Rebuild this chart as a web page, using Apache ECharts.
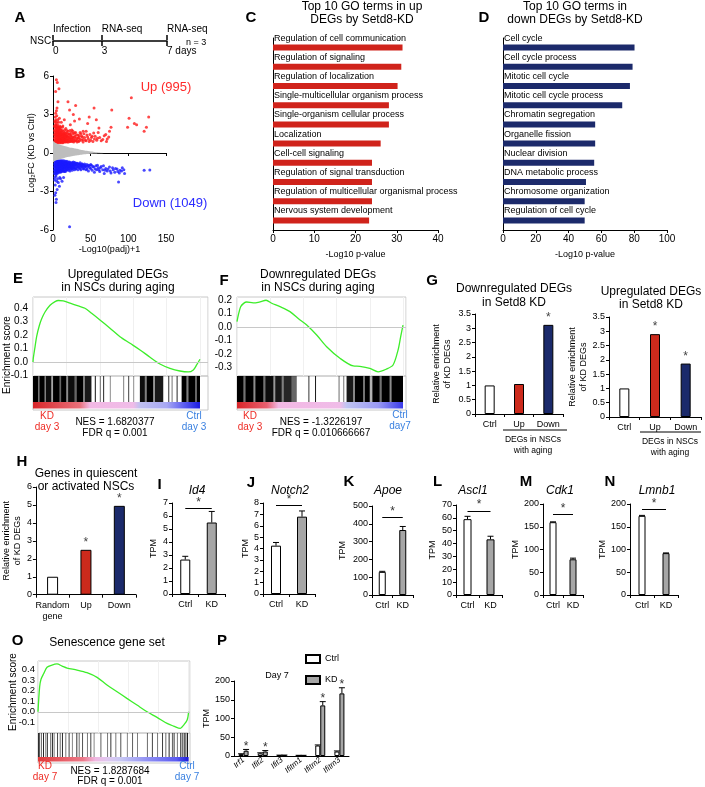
<!DOCTYPE html>
<html><head><meta charset="utf-8">
<script src="https://cdn.jsdelivr.net/npm/echarts@6.0.0/dist/echarts.min.js"></script>
<style>html,body{margin:0;padding:0;background:#fff;}#chart{width:705px;height:787px;}</style>
</head><body><div id="chart"></div>
<script>
// ================= DATA =================
const timelineDays = [0, 3, 7];
const timelineTop = ['Infection', 'RNA-seq', 'RNA-seq'];
const timelineBottom = ['0', '3', '7 days'];

const volcanoUp = [
[4.5,5.7],[5.7,5.5],[7.9,5.0],[3.5,4.8],[6.6,4.0],[19.9,4.0],[30,3.7],[5.3,3.5],[54.5,3.5],[78,3.35],[104,4.3],[127,2.8],[101,2.7],[108,2.3],[111,2.2],[99,2.0],[124,2.0],[121,1.7],[77,2.0],[75,1.7],[70,1.45],[61,1.95],[57.5,2.6],[46,2.3],[40,1.7],[48,2.8],[35,2.65],[28.6,2.5],[27,3.0],[22,3.35],
[3,0.8],[3,1.0],[3,1.3],[3,1.6],[3,2.0],[3,2.4],[3,2.8],[3.5,3.1],[4,0.9],[4,1.2],[4,1.5],[4,1.9],[4,2.2],[4,2.6],[4.5,3.3],[5,0.75],[5,1.05],[5,1.35],[5,1.7],[5,2.05],[5,2.4],[5,2.9],[6,0.85],[6,1.1],[6,1.45],[6,1.8],[6,2.2],[6.5,2.6],[7,0.8],[7,1.0],[7,1.3],[7,1.6],[7,2.0],[7.5,2.4],[8,0.9],[8,1.2],[8,1.5],[8,1.85],[8.5,2.7],[9,0.8],[9,1.05],[9,1.4],[9,2.1],[10,0.9],[10,1.2],[10,1.6],[10,2.0],[11,0.8],[11,1.1],[11,1.45],[11,2.4],[12,0.95],[12,1.3],[12,1.75],[13,0.8],[13,1.15],[13,1.5],[13,2.1],[14,1.0],[14,1.35],[15,0.85],[15,1.2],[15,1.6],[15,2.6],[16,1.0],[16,1.4],[17,0.9],[17,1.25],[17,1.9],[18,1.1],[18,1.55],[19,0.85],[19,1.3],[20,1.0],[20,1.7],[21,1.2],[22,0.9],[22,1.5],[23,1.1],[23,2.2],[24,0.95],[24,1.35],[25,1.2],[25,1.8],[26,0.9],[27,1.1],[27,1.5],[28,1.0],[29,1.3],[30,0.95],[30,1.6],[31,1.15],[32,1.0],[33,1.4],[34,1.2],[35,0.95],[36,1.1],[37,1.5],[38,1.0],[39,1.25],[40,1.05],[42,1.2],[44,0.95],[45,1.4],[47,1.1],[50,1.0],[52,1.3],[55,1.1],[58,1.0],[62,1.2],[66,1.05],[72,1.1],
[2,0.9],[2,1.15],[2,1.45],[2,1.75],[2,2.1],[2.5,2.5],[3.5,0.95],[3.5,1.4],[3.5,1.75],[3.5,2.2],[4.5,1.05],[4.5,1.6],[4.5,2.0],[5.5,0.9],[5.5,1.25],[5.5,1.55],[5.5,1.9],[6.5,1.0],[6.5,1.3],[6.5,1.65],[6.5,2.05],[7.5,0.9],[7.5,1.15],[7.5,1.45],[7.5,1.8],[8.5,1.05],[8.5,1.35],[8.5,1.65],[8.5,2.0],[9.5,0.95],[9.5,1.25],[9.5,1.6],[9.5,1.85],[10.5,1.05],[10.5,1.4],[10.5,1.8],[11.5,0.95],[11.5,1.25],[11.5,1.6],[12.5,0.85],[12.5,1.1],[12.5,1.45],[12.5,2.0],[13.5,1.0],[13.5,1.3],[13.5,1.7],[14.5,0.9],[14.5,1.15],[14.5,1.5],[15.5,1.05],[15.5,1.4],[15.5,1.8],[16.5,0.85],[16.5,1.2],[16.5,1.55],[17.5,1.05],[17.5,1.4],[18.5,0.9],[18.5,1.3],[18.5,1.75],[19.5,1.1],[19.5,1.5],[20.5,0.85],[20.5,1.25],[21.5,1.0],[21.5,1.45],[22.5,1.2],[22.5,1.75],[23.5,0.9],[23.5,1.4],[24.5,1.1],[24.5,1.6],[25.5,0.95],[26.5,1.25],[26.5,1.7],[27.5,0.85],[28.5,1.2],[28.5,1.55],[29.5,0.95],[31,1.4],[32,0.85],[33,1.15],[34,0.9],[35,1.35],[36,1.6],[38,1.3],[40,0.85],[41,1.5],[43,1.0],[44,1.7],[46,1.25],[48,0.9],[49,1.45],[51,1.2],[53,0.9],[54,1.55],[56,1.3],[59,1.15],[60,1.6],[64,0.95],[68,1.35],[71,0.9],[74,1.25]
];
const volcanoDown = [
[128.5,-1.32],[121,-1.35],[87,-2.25],[2.3,-2.1],[3.6,-3.1],[4.5,-3.6],[4,-3.85],[5.5,-2.85],[7,-2.3],[8.5,-2.6],[10,-2.0],[22,-5.75],[6,-2.0],[3,-2.5],[12,-2.2],[9,-1.9],[4,-1.8],[5,-2.2],[14,-1.9],[2.5,-3.3],
[3,-0.7],[3,-0.95],[3,-1.2],[3,-1.5],[4,-0.65],[4,-0.85],[4,-1.1],[4,-1.4],[5,-0.75],[5,-1.0],[5,-1.3],[5,-1.6],[6,-0.7],[6,-0.9],[6,-1.15],[6,-1.45],[7,-0.8],[7,-1.05],[7,-1.3],[8,-0.7],[8,-0.95],[8,-1.2],[8,-1.5],[9,-0.8],[9,-1.1],[9,-1.35],[10,-0.7],[10,-0.9],[10,-1.2],[10,-1.5],[11,-0.8],[11,-1.05],[11,-1.3],[12,-0.7],[12,-0.95],[12,-1.25],[13,-0.85],[13,-1.1],[13,-1.4],[14,-0.75],[14,-1.0],[14,-1.2],[15,-0.9],[15,-1.15],[15,-1.45],[16,-0.8],[16,-1.05],[17,-0.7],[17,-0.95],[17,-1.25],[18,-0.85],[18,-1.1],[19,-0.75],[19,-1.0],[19,-1.3],[20,-0.9],[20,-1.15],[21,-0.8],[21,-1.05],[22,-0.7],[22,-0.95],[22,-1.2],[23,-0.85],[23,-1.1],[24,-0.75],[24,-1.0],[25,-0.9],[25,-1.2],[26,-0.8],[26,-1.05],[27,-0.7],[27,-0.95],[28,-0.85],[28,-1.15],[29,-0.75],[29,-1.0],[30,-0.9],[30,-1.25],[31,-0.8],[32,-1.05],[33,-0.85],[34,-1.1],[35,-0.9],[36,-0.75],[36,-1.2],[37,-1.0],[38,-0.85],[39,-1.1],[40,-0.95],[41,-1.25],[42,-0.85],[43,-1.05],[44,-1.3],[45,-0.9],[46,-1.1],[47,-1.4],[48,-1.0],[50,-1.2],[51,-0.95],[52,-1.35],[54,-1.1],[55,-1.5],[57,-1.0],[58,-1.3],[60,-1.15],[62,-1.45],[64,-1.05],[66,-1.3],[68,-1.6],[70,-1.2],[72,-1.4],[75,-1.1],[77,-1.55],[80,-1.3],[83,-1.2],[86,-1.45],[89,-1.35],[92,-1.15],[95,-1.6],
[2,-0.6],[2,-0.85],[2,-1.1],[2,-1.35],[2,-1.6],[2.5,-1.9],[3.5,-0.6],[3.5,-0.85],[3.5,-1.05],[3.5,-1.35],[3.5,-1.65],[4.5,-0.7],[4.5,-0.95],[4.5,-1.25],[4.5,-1.5],[5.5,-0.65],[5.5,-0.9],[5.5,-1.15],[5.5,-1.4],[6.5,-0.6],[6.5,-0.8],[6.5,-1.05],[6.5,-1.3],[6.5,-1.55],[7.5,-0.65],[7.5,-0.9],[7.5,-1.15],[7.5,-1.4],[8.5,-0.6],[8.5,-0.85],[8.5,-1.05],[8.5,-1.35],[9.5,-0.65],[9.5,-0.9],[9.5,-1.2],[9.5,-1.45],[10.5,-0.6],[10.5,-0.8],[10.5,-1.05],[10.5,-1.35],[11.5,-0.65],[11.5,-0.9],[11.5,-1.15],[11.5,-1.45],[12.5,-0.6],[12.5,-0.85],[12.5,-1.1],[12.5,-1.35],[13.5,-0.7],[13.5,-0.95],[13.5,-1.25],[14.5,-0.6],[14.5,-0.85],[14.5,-1.1],[14.5,-1.4],[15.5,-0.7],[15.5,-1.0],[15.5,-1.3],[16.5,-0.65],[16.5,-0.9],[16.5,-1.15],[16.5,-1.45],[17.5,-0.8],[17.5,-1.05],[17.5,-1.35],[18.5,-0.65],[18.5,-0.95],[18.5,-1.25],[19.5,-0.85],[19.5,-1.15],[20.5,-0.7],[20.5,-1.0],[20.5,-1.35],[21.5,-0.9],[21.5,-1.2],[22.5,-0.8],[22.5,-1.05],[22.5,-1.4],[23.5,-0.95],[23.5,-1.25],[24.5,-0.85],[24.5,-1.15],[25.5,-0.75],[25.5,-1.05],[25.5,-1.35],[26.5,-0.95],[26.5,-1.2],[27.5,-0.85],[27.5,-1.1],[28.5,-0.75],[28.5,-1.3],[29.5,-0.9],[29.5,-1.15],[31,-0.95],[31,-1.2],[32,-0.8],[33,-1.05],[33,-1.3],[34,-0.85],[35,-1.15],[36,-0.95],[37,-1.3],[38,-1.05],[39,-0.85],[40,-1.2],[41,-0.95],[42,-1.1],[44,-1.0],[45,-1.25],[47,-0.95],[49,-1.15],[50,-0.9],[53,-1.05],[56,-1.25],[59,-0.95],[61,-1.3],[63,-1.15],[67,-1.0],[69,-1.35],[73,-1.25],[76,-1.4],[79,-1.15],[82,-1.5],[85,-1.25],[88,-1.55],[91,-1.4],[94,-1.3]
];
const volcanoGreyUpper = [[0,0.95],[3,0.8],[8,0.68],[15,0.55],[25,0.4],[35,0.28],[45,0.17],[55,0.08],[65,0.02],[72,0]];
const volcanoGreyLower = [[0,-0.75],[3,-0.6],[8,-0.5],[15,-0.38],[25,-0.26],[35,-0.16],[45,-0.08],[55,-0.03],[65,-0.01],[72,0]];

const goUpTerms = ['Regulation of cell communication','Regulation of signaling','Regulation of localization','Single-multicellular organism process','Single-organism cellular process','Localization','Cell-cell signaling','Regulation of signal transduction','Regulation of multicellular organismal process','Nervous system development'];
const goUpValues = [31.4, 31.1, 30.2, 28.1, 28.1, 26.1, 24.0, 24.0, 24.0, 23.3];
const goDownTerms = ['Cell cycle','Cell cycle process','Mitotic cell cycle','Mitotic cell cycle process','Chromatin segregation','Organelle fission','Nuclear division','DNA metabolic process','Chromosome organization','Regulation of cell cycle'];
const goDownValues = [80.2, 79.0, 77.4, 72.7, 56.2, 56.2, 55.6, 50.6, 49.8, 49.8];

const esE = [[0,0],[0.2,0.03],[1.2,0.11],[2.2,0.19],[3.8,0.27],[5.2,0.32],[7.2,0.37],[10.2,0.42],[13.2,0.447],[15.2,0.455],[18.1,0.452],[22.2,0.435],[27.1,0.415],[31.1,0.398],[35.1,0.36],[40.1,0.311],[46.1,0.25],[52.1,0.187],[58.1,0.138],[64.1,0.089],[70.1,0.035],[76,-0.015],[82,-0.047],[88,-0.067],[93,-0.074],[96,-0.059],[98,-0.022],[100,0.02]];
const hitsE = [[0,3,1],[3,3.8,0.55],[3.8,7,1],[7,7.8,0.5],[7.8,11,0.95],[11,12,0.35],[12,16,1],[16,16.8,0.6],[16.8,20,1],[20,21,0.45],[21,25,0.95],[25,26,0.6],[26,30,1],[30,31,0.5],[31,35,0.9],[37,37.7,0.8],[40,40.6,0.6],[42,42.6,0.85],[46,46.6,0.45],[54,54.6,0.5],[57,57.6,0.75],[60,60.6,0.45],[64,67,0.95],[67,68,0.5],[68,72,1],[72,73,0.4],[73,78,0.9],[81,81.6,0.8],[83,83.6,0.55],[86,86.6,0.85],[89,92,1],[92,93,0.5],[93,97,1],[97,98,0.6],[98,100,1]];

const esF = [[0,0.04],[0.8,0.089],[2.2,0.15],[4,0.175],[5.8,0.185],[9.8,0.178],[13.9,0.186],[17.5,0.198],[20.9,0.176],[25.9,0.151],[31.9,0.114],[38,0.052],[42,0.016],[48,-0.058],[54,-0.145],[62,-0.23],[70,-0.287],[74,-0.29],[80,-0.305],[85,-0.33],[90,-0.31],[94,-0.28],[97,-0.17],[98.6,-0.07],[100,0.015]];
const hitsF = [[0,4,1],[4,5,0.55],[5,10,1],[10,11,0.45],[11,16,1],[16,17,0.55],[17,22,0.95],[22,23,0.4],[23,27,0.9],[27,28,0.5],[28,33,0.85],[33,36,0.6],[43,43.6,0.8],[47,47.6,0.9],[61,62,0.35],[64,64.6,0.55],[66,70,0.9],[70,71,0.45],[71,76,1],[76,77,0.55],[77,80,1],[80,81.5,0.3],[81.5,86,1],[86,87,0.55],[87,92,1],[92,93,0.45],[93,100,1]];

const esO = [[0,0],[1.1,0.236],[2,0.306],[3.8,0.36],[6,0.419],[9.3,0.44],[12.6,0.45],[16,0.43],[19.3,0.412],[25.9,0.393],[32.5,0.368],[39.2,0.324],[45.8,0.252],[52.5,0.189],[59,0.126],[65.7,0.063],[72.4,0],[79,-0.053],[85.7,-0.11],[90,-0.135],[94.5,-0.157],[96.7,-0.125],[99,-0.078],[100,0]];
const hitsO = [[0,1.2,0.8],[1.9,2.6,0.6],[3.3,4,0.85],[4.8,5.5,0.5],[5.9,6.6,0.75],[8.1,8.8,0.6],[9.3,10,0.8],[10.4,11.1,0.45],[12.6,13.3,0.7],[14.4,15.1,0.55],[15.9,16.6,0.8],[18.1,18.8,0.5],[20.3,21,0.7],[22.5,23.2,0.45],[25.4,26.1,0.75],[27,27.7,0.55],[29.2,29.9,0.65],[32.5,33.2,0.5],[34.7,35.4,0.7],[36.9,37.6,0.45],[41.4,42.1,0.6],[45.8,46.5,0.5],[48,48.7,0.75],[51.3,52,0.5],[54.6,55.3,0.65],[59,59.7,0.45],[62.4,63.1,0.6],[65.7,66.4,0.5],[72.3,73,0.55],[75.6,76.3,0.7],[79,79.7,0.5],[82.3,83,0.75],[84.5,85.2,0.55],[86.7,87.4,0.8],[88.9,89.6,0.6],[90,90.7,0.75],[92.2,92.9,0.5],[94.4,95.1,0.8],[95.5,96.2,0.6],[96.7,97.4,0.85],[97.8,98.5,0.7],[98.9,99.6,0.9]];

const gCats = ['Ctrl', 'Up', 'Down'];
const gDownValues = [1.0, 1.05, 3.12];
const gDownStars = [0, 0, 1];
const gUpValues = [1.0, 2.9, 1.87];
const gUpStars = [0, 1, 1];

const hCats = ['Random\ngene', 'Up', 'Down'];
const hValues = [1.0, 2.5, 4.95];
const hStars = [0, 1, 1];

const tpmCats = ['Ctrl', 'KD'];
const id4 = [2.65, 5.5], id4Err = [0.25, 0.85];
const notch2 = [4.25, 6.8], notch2Err = [0.28, 0.5];
const apoe = [130, 365], apoeErr = [3, 20];
const ascl1 = [59, 43.3], ascl1Err = [2.2, 2.4];
const cdk1 = [160, 78.5], cdk1Err = [0.8, 2.5];
const lmnb1 = [174, 92], lmnb1Err = [1, 0.5];

const pGenes = ['Irf1', 'Ifit2', 'Ifit3', 'Ifitm1', 'Ifitm2', 'Ifitm3'];
const pCtrl = [5, 7, 2, 1.5, 28, 12];
const pCtrlErr = [1, 1.5, 0.3, 0.3, 1.5, 1.5];
const pKD = [14, 12, 2, 1.5, 135, 167];
const pKDErr = [3.5, 2.5, 0.5, 0.3, 10, 15];
const pStars = [1, 1, 0, 0, 1, 1];

// ================= BUILD =================
const FONT = '"Liberation Sans", Arial, sans-serif';
const grids = [], xAxes = [], yAxes = [], series = [], graphics = [];
function addGrid(g, x, y) {
  grids.push(g); const gi = grids.length - 1;
  xAxes.push(Object.assign({ gridIndex: gi }, x));
  yAxes.push(Object.assign({ gridIndex: gi }, y));
  return { gi, xi: xAxes.length - 1, yi: yAxes.length - 1 };
}
const BL = { show: true, lineStyle: { color: '#000', width: 1 } };
const TK = (len) => ({ show: true, length: len || 3, lineStyle: { color: '#000', width: 1 } });
const LB = (fs, extra) => Object.assign({ color: '#000', fontSize: fs, fontFamily: FONT }, extra || {});
const NOSPLIT = { show: false };
function T(x, y, text, o) {
  o = o || {};
  graphics.push({ type: 'text', x, y, rotation: o.rot || 0, z: 100, silent: true,
    style: { text, x: 0, y: 0, fill: o.color || '#000', fontSize: o.size || 12, fontFamily: FONT,
      fontWeight: o.bold ? 'bold' : 'normal', fontStyle: o.italic ? 'italic' : 'normal',
      align: o.align || 'center', verticalAlign: o.va || 'middle', lineHeight: o.lh || 13 } });
}
function Ln(x1, y1, x2, y2) { graphics.push({ type: 'line', z: 100, silent: true, shape: { x1, y1, x2, y2 }, style: { stroke: '#000', lineWidth: 1 } }); }

function errSeries(xi, yi, vals, errs, offPx, stars) {
  return { type: 'custom', xAxisIndex: xi, yAxisIndex: yi, z: 5, silent: true,
    data: vals.map((v, i) => [i, v, errs[i], stars ? stars[i] : 0]),
    renderItem: function (params, api) {
      const i = api.value(0), v = api.value(1), e = api.value(2), s = api.value(3);
      const base = api.coord([i, v]), top = api.coord([i, v + e]);
      const x = base[0] + offPx;
      const ch = [];
      if (e > 0) {
        ch.push({ type: 'line', shape: { x1: x, y1: base[1], x2: x, y2: top[1] }, style: { stroke: '#000', lineWidth: 1 } });
        ch.push({ type: 'line', shape: { x1: x - 3, y1: top[1], x2: x + 3, y2: top[1] }, style: { stroke: '#000', lineWidth: 1 } });
      }
      if (s) ch.push({ type: 'text', x: x, y: top[1] + 3, style: { text: '*', fontSize: 12, fill: '#333', align: 'center', verticalAlign: 'bottom', fontFamily: FONT } });
      return { type: 'group', children: ch };
    } };
}

// ---- A timeline ----
const gA = addGrid({ left: 53, top: 40, width: 114, height: 1 },
  { type: 'value', min: 0, max: 7, position: 'bottom', axisLine: { show: true, lineStyle: { color: '#000', width: 1.5 } },
    axisTick: { show: true, length: 5, customValues: timelineDays, lineStyle: { color: '#000', width: 1.5 } },
    axisLabel: LB(10, { customValues: timelineDays, formatter: v => timelineBottom[timelineDays.indexOf(v)], align: 'left', margin: 5 }), splitLine: NOSPLIT },
  { type: 'value', min: 0, max: 1, show: false });
xAxes.push({ gridIndex: gA.gi, type: 'value', min: 0, max: 7, position: 'top', axisLine: { show: false },
  axisTick: { show: true, length: 5, customValues: timelineDays, lineStyle: { color: '#000', width: 1.5 } },
  axisLabel: LB(10, { customValues: timelineDays, formatter: v => timelineTop[timelineDays.indexOf(v)], align: 'left', margin: 6 }), splitLine: NOSPLIT });
T(30, 41, 'NSC', { size: 10, align: 'left' });
T(186, 43, 'n = 3', { size: 9, align: 'left' });

// ---- B volcano ----
const gB = addGrid({ left: 53, top: 76, width: 113, height: 154 },
  { type: 'value', min: 0, max: 150, interval: 50, axisLine: BL, axisTick: TK(3), axisLabel: LB(10, { margin: 4 }), splitLine: NOSPLIT,
    name: '-Log10(padj)+1', nameLocation: 'middle', nameGap: 13, nameTextStyle: LB(9) },
  { type: 'value', min: -6, max: 6, interval: 3, axisLine: BL, axisTick: TK(3), axisLabel: LB(10, { margin: 4 }), splitLine: NOSPLIT,
    name: 'Log\u2082FC (KD vs Ctrl)', nameLocation: 'middle', nameGap: 15, nameTextStyle: LB(9) });
[volcanoGreyUpper, volcanoGreyLower].forEach(d => series.push({ type: 'line', xAxisIndex: gB.xi, yAxisIndex: gB.yi, data: d, symbol: 'none', smooth: true, silent: true,
  lineStyle: { width: 0 }, areaStyle: { color: '#bdbdbd', opacity: 1 } }));
series.push({ type: 'scatter', xAxisIndex: gB.xi, yAxisIndex: gB.yi, data: volcanoUp, symbolSize: 3, silent: true, itemStyle: { color: '#ff1a1a' } });
series.push({ type: 'scatter', xAxisIndex: gB.xi, yAxisIndex: gB.yi, data: volcanoDown, symbolSize: 3, silent: true, itemStyle: { color: '#1a1aff' } });
T(166, 87, 'Up (995)', { size: 13, color: '#ff2a2a' });
T(170, 203, 'Down (1049)', { size: 13, color: '#2b2bff' });

// ---- C, D GO bars ----
function goPanel(left, width, max, interval, terms, values, color) {
  const g = addGrid({ left, top: 38, width, height: 192 },
    { type: 'value', min: 0, max, interval, axisLine: BL, axisTick: TK(3), axisLabel: LB(10, { margin: 4 }), splitLine: NOSPLIT,
      name: '-Log10 p-value', nameLocation: 'middle', nameGap: 20, nameTextStyle: LB(9) },
    { type: 'category', inverse: true, data: terms, axisLine: BL, axisTick: { show: false }, axisLabel: { show: false } });
  series.push({ type: 'bar', xAxisIndex: g.xi, yAxisIndex: g.yi, data: values, barWidth: 6, silent: true, itemStyle: { color },
    label: { show: true, position: [1, -11], formatter: '{b}', fontSize: 9, color: '#000', fontFamily: FONT } });
}
goPanel(273, 165, 40, 10, goUpTerms, goUpValues, '#d0231b');
goPanel(503, 164, 100, 20, goDownTerms, goDownValues, '#1c2a6b');
T(362, 7, 'Top 10 GO terms in up', { size: 12 });
T(362, 20, 'DEGs by Setd8-KD', { size: 12 });
T(575, 7, 'Top 10 GO terms in', { size: 12 });
T(575, 20, 'down DEGs by Setd8-KD', { size: 12 });

// ---- GSEA panels ----
function gsea(o) {
  const g1 = addGrid({ left: o.left, top: o.top, width: o.width, height: o.esH, show: true, borderColor: '#c8c8c8', borderWidth: 1 },
    { type: 'value', min: 0, max: o.xMax, axisLine: { show: false }, axisTick: { show: false }, axisLabel: { show: false },
      splitLine: { show: true, interval: 20, lineStyle: { color: '#f0f0f0' } } },
    { type: 'value', min: o.yMin, max: o.yMax, axisLine: { show: false }, axisTick: { show: false }, splitLine: NOSPLIT,
      axisLabel: LB(o.lblSize || 10, { customValues: o.yTicks, formatter: v => v.toFixed(1), margin: o.lblMargin || 5 }) });
  series.push({ type: 'line', xAxisIndex: g1.xi, yAxisIndex: g1.yi, data: o.es, symbol: 'none', silent: true, smooth: 0.3,
    lineStyle: { color: '#3ded2a', width: 1.3 },
    markLine: { silent: true, symbol: 'none', label: { show: false }, lineStyle: { color: '#c8c8c8', type: 'solid', width: 1 }, data: [{ yAxis: 0 }] } });
  const g2 = addGrid({ left: o.left, top: o.top + o.esH, width: o.width, height: o.hitH + o.cbH + 1.5, show: true, borderColor: '#c8c8c8', borderWidth: 1 },
    { type: 'value', min: 0, max: o.xMax, show: false },
    { type: 'value', min: 0, max: 1, show: false });
  series.push({ type: 'custom', xAxisIndex: g2.xi, yAxisIndex: g2.yi, data: o.hits, silent: true,
    renderItem: function (params, api) {
      const cs = params.coordSys;
      const x0 = api.coord([api.value(0), 0])[0], x1 = api.coord([api.value(1), 0])[0];
      return { type: 'rect', shape: { x: x0, y: cs.y, width: Math.max(1, x1 - x0), height: o.hitH }, style: { fill: 'rgba(0,0,0,' + api.value(2) + ')' } };
    } });
  series.push({ type: 'custom', xAxisIndex: g2.xi, yAxisIndex: g2.yi, data: [[0, 100]], silent: true,
    renderItem: function (params, api) {
      const cs = params.coordSys;
      const x0 = api.coord([api.value(0), 0])[0], x1 = api.coord([api.value(1), 0])[0];
      return { type: 'rect', shape: { x: x0, y: cs.y + o.hitH, width: x1 - x0, height: o.cbH },
        style: { fill: new echarts.graphic.LinearGradient(0, 0, 1, 0, o.grad.map(s => ({ offset: s[0], color: s[1] }))) } };
    } });
}
const RED = '#ee2b24', BLUE = '#3a80e0';
gsea({ left: 33, top: 297, width: 175, esH: 79, hitH: 26, cbH: 6.5, xMax: 104.8, yMin: -0.104, yMax: 0.481, yTicks: [-0.1, 0, 0.1, 0.2, 0.3, 0.4], es: esE, hits: hitsE,
  grad: [[0,'#d8262a'],[0.28,'#e8707a'],[0.34,'#f2b8e4'],[0.6,'#f0bce8'],[0.64,'#c0c0f0'],[0.8,'#a8a8f4'],[0.9,'#6060f0'],[1,'#1a1ae0']] });
gsea({ left: 237, top: 297, width: 169, esH: 79, hitH: 26, cbH: 6.5, xMax: 101.8, yMin: -0.361, yMax: 0.222, yTicks: [-0.3, -0.2, -0.1, 0, 0.1, 0.2], es: esF, hits: hitsF,
  grad: [[0,'#d8262a'],[0.18,'#e86070'],[0.25,'#f2b8e4'],[0.62,'#f0bce8'],[0.66,'#c0c4f2'],[0.85,'#9a9af4'],[1,'#3a3ae8']] });
gsea({ left: 38, top: 661, width: 152, esH: 72, hitH: 24, cbH: 4.5, xMax: 100.9, yMin: -0.2, yMax: 0.478, yTicks: [-0.1, 0, 0.1, 0.2, 0.3, 0.4], es: esO, hits: hitsO, lblSize: 9.5, lblMargin: 3,
  grad: [[0,'#e03a3a'],[0.3,'#ec7a8a'],[0.38,'#f0b8e2'],[0.46,'#e0c8f0'],[0.55,'#c8c8f4'],[0.7,'#9898f4'],[0.92,'#5a5af0'],[1,'#1a1ad8']] });

T(118, 275, 'Upregulated DEGs', { size: 12 });
T(118, 288, 'in NSCs during aging', { size: 12 });
T(7, 355, 'Enrichment score', { size: 10, rot: Math.PI / 2 });
T(47, 416.7, 'KD', { size: 10, color: RED }); T(47, 427.5, 'day 3', { size: 10, color: RED });
T(194, 416, 'Ctrl', { size: 10, color: BLUE }); T(194, 427.5, 'day 3', { size: 10, color: BLUE });
T(115, 422.7, 'NES = 1.6820377', { size: 10 }); T(115, 433, 'FDR q = 0.001', { size: 10 });

T(318, 275, 'Downregulated DEGs', { size: 12 });
T(318, 288, 'in NSCs during aging', { size: 12 });
T(250, 416.7, 'KD', { size: 10, color: RED }); T(250, 427.5, 'day 3', { size: 10, color: RED });
T(400, 415.7, 'Ctrl', { size: 10, color: BLUE }); T(400, 426.5, 'day7', { size: 10, color: BLUE });
T(321, 422.7, 'NES = -1.3226197', { size: 10 }); T(321, 433, 'FDR q = 0.010666667', { size: 10 });

T(107, 643, 'Senescence gene set', { size: 12 });
T(13, 692, 'Enrichment score', { size: 10, rot: Math.PI / 2 });
T(45, 766, 'KD', { size: 10, color: RED }); T(45, 777, 'day 7', { size: 10, color: RED });
T(187, 766, 'Ctrl', { size: 10, color: BLUE }); T(187, 777, 'day 7', { size: 10, color: BLUE });
T(110, 771, 'NES = 1.8287684', { size: 10 }); T(110, 781, 'FDR q = 0.001', { size: 10 });

// ---- G, H enrichment bars ----
function enrichPanel(o) {
  const g = addGrid({ left: o.left, top: o.top, width: o.width, height: o.height },
    { type: 'category', data: o.cats, axisLine: BL, axisTick: { show: true, length: 3, lineStyle: { color: '#000' } }, axisLabel: LB(9, { margin: 5, lineHeight: 11, interval: 0 }) },
    { type: 'value', min: 0, max: o.max, interval: o.interval, axisLine: BL, axisTick: TK(3), axisLabel: LB(9, { margin: 4 }), splitLine: NOSPLIT,
      name: 'Relative enrichment\nof KD DEGs', nameLocation: 'middle', nameGap: o.nameGap, nameTextStyle: LB(9, { lineHeight: 11 }) });
  const cols = ['#ffffff', '#cc2a1c', '#1b2a6b'];
  series.push({ type: 'bar', xAxisIndex: g.xi, yAxisIndex: g.yi, barWidth: o.barWidth, silent: true,
    data: o.vals.map((v, i) => ({ value: v, itemStyle: { color: cols[i] }, label: { show: !!o.stars[i] } })),
    itemStyle: { borderColor: '#000', borderWidth: 1 },
    label: { show: false, position: 'top', formatter: '*', fontSize: 12, color: '#444', distance: 1 } });
}
enrichPanel({ left: 475, top: 314, width: 88, height: 100, max: 3.5, interval: 0.5, cats: gCats, vals: gDownValues, stars: gDownStars, nameGap: 22, barWidth: 10 });
enrichPanel({ left: 609, top: 317, width: 92, height: 100, max: 3.5, interval: 0.5, cats: gCats, vals: gUpValues, stars: gUpStars, nameGap: 20, barWidth: 10 });
enrichPanel({ left: 33, top: 487, width: 103, height: 107.7, max: 6, interval: 1, cats: hCats, vals: hValues, stars: hStars, nameGap: 11, barWidth: 11 });
T(514, 289, 'Downregulated DEGs', { size: 12 }); T(514, 302.5, 'in Setd8 KD', { size: 12 });
T(651, 292, 'Upregulated DEGs', { size: 12 }); T(651, 305, 'in Setd8 KD', { size: 12 });
Ln(503, 430, 567, 430); T(533, 440, 'DEGs in NSCs', { size: 8.5 }); T(533, 450.5, 'with aging', { size: 8.5 });
Ln(640, 432, 701, 432); T(670, 442, 'DEGs in NSCs', { size: 8.5 }); T(670, 452.5, 'with aging', { size: 8.5 });
T(86, 473.5, 'Genes in quiescent', { size: 12 }); T(86, 487, 'or activated NSCs', { size: 12 });

// ---- I-N TPM panels ----
function tpmPanel(o) {
  const g = addGrid({ left: o.left, top: o.top, width: o.width, height: o.height },
    { type: 'category', data: tpmCats, axisLine: BL, axisTick: { show: true, length: 3, lineStyle: { color: '#000' } }, axisLabel: LB(9, { margin: 6, interval: 0 }) },
    { type: 'value', min: 0, max: o.max, interval: o.interval, axisLine: BL, axisTick: TK(3), axisLabel: LB(9, { margin: 4 }), splitLine: NOSPLIT,
      name: 'TPM', nameLocation: 'middle', nameGap: o.nameGap, nameTextStyle: LB(9) });
  series.push({ type: 'bar', xAxisIndex: g.xi, yAxisIndex: g.yi, barWidth: o.barWidth, silent: true,
    data: o.vals.map((v, i) => ({ value: v, itemStyle: { color: i === 0 ? '#ffffff' : '#a6a6a6' } })),
    itemStyle: { borderColor: '#000', borderWidth: 1 },
    markLine: { silent: true, symbol: 'none', lineStyle: { color: '#000', width: 1, type: 'solid' },
      label: { show: true, formatter: '*', position: 'insideMiddleTop', distance: 0, fontSize: 12, color: '#333' },
      data: [[{ coord: ['Ctrl', o.sig] }, { coord: ['KD', o.sig] }]] } });
  series.push(errSeries(g.xi, g.yi, o.vals, o.errs, 0, null));
  T(o.titleX, 491, o.title, { size: 12, italic: true });
}
tpmPanel({ left: 172, top: 503, width: 53, height: 91, max: 7, interval: 1, vals: id4, errs: id4Err, sig: 6.6, barWidth: 10, nameGap: 14, title: 'Id4', titleX: 197 });
tpmPanel({ left: 263, top: 503, width: 52, height: 91, max: 8, interval: 1, vals: notch2, errs: notch2Err, sig: 7.8, barWidth: 10, nameGap: 13, title: 'Notch2', titleX: 290 });
tpmPanel({ left: 372, top: 506, width: 41, height: 89, max: 500, interval: 100, vals: apoe, errs: apoeErr, sig: 435, barWidth: 7, nameGap: 25, title: 'Apoe', titleX: 388 });
tpmPanel({ left: 456, top: 505, width: 46, height: 90, max: 70, interval: 10, vals: ascl1, errs: ascl1Err, sig: 65.3, barWidth: 8, nameGap: 19, title: 'Ascl1', titleX: 473 });
tpmPanel({ left: 543, top: 504, width: 40, height: 91, max: 200, interval: 50, vals: cdk1, errs: cdk1Err, sig: 177, barWidth: 7, nameGap: 19, title: 'Cdk1', titleX: 560 });
tpmPanel({ left: 630, top: 504, width: 48, height: 91, max: 200, interval: 50, vals: lmnb1, errs: lmnb1Err, sig: 188, barWidth: 7, nameGap: 20, title: 'Lmnb1', titleX: 657 });

// ---- P ----
const gP = addGrid({ left: 234, top: 681, width: 115, height: 75 },
  { type: 'category', data: pGenes, axisLine: BL, axisTick: { show: false }, axisLabel: LB(8, { rotate: 40, interval: 0, fontStyle: 'italic', margin: 3 }) },
  { type: 'value', min: 0, max: 200, interval: 50, axisLine: BL, axisTick: TK(3), axisLabel: LB(9, { margin: 4 }), splitLine: NOSPLIT,
    name: 'TPM', nameLocation: 'middle', nameGap: 17, nameTextStyle: LB(9) });
series.push({ type: 'bar', name: 'Ctrl', xAxisIndex: gP.xi, yAxisIndex: gP.yi, data: pCtrl, barWidth: 5, barGap: '0%', silent: true, itemStyle: { color: '#ffffff', borderColor: '#000', borderWidth: 1 } });
series.push({ type: 'bar', name: 'KD', xAxisIndex: gP.xi, yAxisIndex: gP.yi, data: pKD, barWidth: 5, barGap: '0%', silent: true, itemStyle: { color: '#a6a6a6', borderColor: '#000', borderWidth: 1 } });
series.push(errSeries(gP.xi, gP.yi, pCtrl, pCtrlErr, -2.5, null));
series.push(errSeries(gP.xi, gP.yi, pKD, pKDErr, 2.5, pStars));
T(277, 676, 'Day 7', { size: 9 });

// ---- panel letters ----
[['A',20,18],['B',20,74],['C',251,18],['D',484,18],['E',18,279],['F',224,281],['G',432,281],['H',22,462],['I',159.5,485],['J',251,483],['K',349,482],['L',437.5,482],['M',526,482],['N',610,482],['O',17.5,641],['P',222,641]]
  .forEach(l => T(l[1], l[2], l[0], { size: 15, bold: true }));

const chart = echarts.init(document.getElementById('chart'), null, { renderer: 'canvas', width: 705, height: 787 });
chart.setOption({
  animation: false,
  backgroundColor: '#ffffff',
  textStyle: { fontFamily: FONT },
  legend: { data: ['Ctrl', 'KD'], left: 305, top: 654, orient: 'vertical', itemWidth: 14, itemHeight: 8, itemGap: 11, icon: 'rect', selectedMode: false, padding: 0, textStyle: LB(9) },
  grid: grids, xAxis: xAxes, yAxis: yAxes, series: series, graphic: graphics
});
</script></body></html>
